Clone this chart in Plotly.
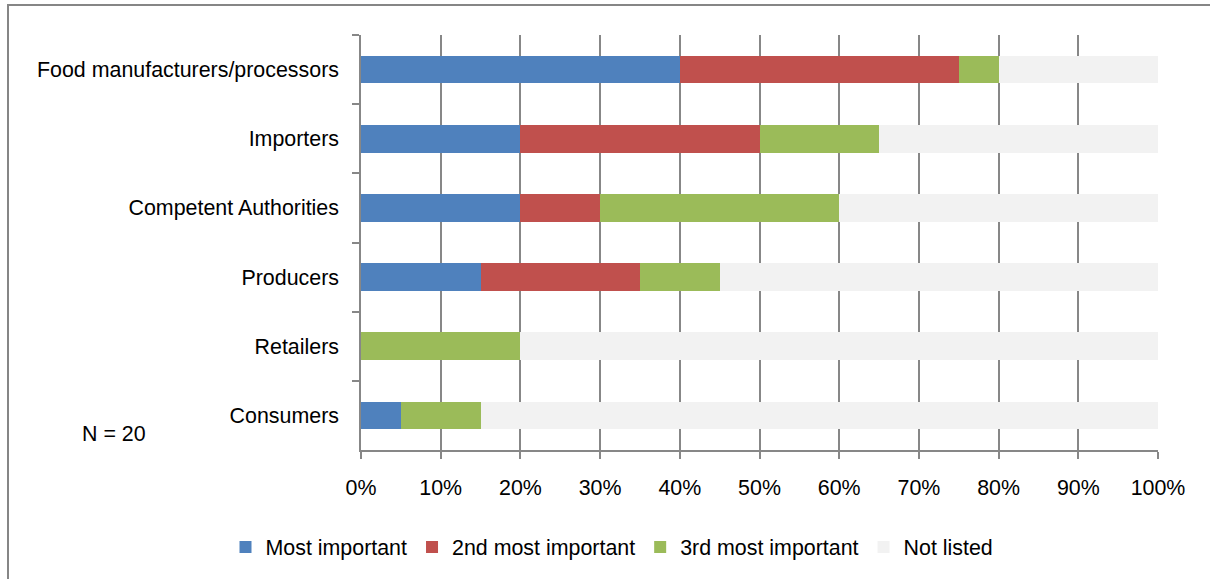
import plotly.graph_objects as go

categories = ["Food manufacturers/processors", "Importers", "Competent Authorities",
              "Producers", "Retailers", "Consumers"]
most_important = [40, 20, 20, 15, 0, 5]
second_most = [35, 30, 10, 20, 0, 0]
third_most = [5, 15, 30, 10, 20, 10]
not_listed = [20, 35, 40, 55, 80, 85]
x_ticks = list(range(0, 101, 10))
x_tick_labels = [f"{v}%" for v in x_ticks]

series = [
    ("Most important", most_important, "#4F81BD"),
    ("2nd most important", second_most, "#C0504D"),
    ("3rd most important", third_most, "#9BBB59"),
    ("Not listed", not_listed, "#F2F2F2"),
]

fig = go.Figure()
for name, vals, color in series:
    fig.add_trace(go.Bar(
        y=categories, x=vals, name=name, orientation="h",
        marker=dict(color=color, line=dict(width=0)),
    ))

W, H = 1210, 579
L, R, T, B = 361, 1158, 35, 450

def px(x):
    return (x - L) / (R - L)

def py(y):
    return (B - y) / (B - T)

grid = "#878787"
FS = 21.4
fig.update_layout(
    width=W, height=H,
    margin=dict(l=L, r=W - R, t=T, b=H - B, pad=0),
    barmode="stack", bargap=0.6,
    plot_bgcolor="white", paper_bgcolor="white",
    font=dict(family="Liberation Sans, Arial, sans-serif", size=FS, color="#000000"),
    showlegend=True,
    legend=dict(orientation="h", x=px(612), y=py(547), xanchor="center", yanchor="middle",
                traceorder="normal", font=dict(size=FS), itemclick=False),
    xaxis=dict(range=[0, 100], tickvals=x_ticks, ticktext=x_tick_labels,
               showgrid=True, gridcolor=grid, gridwidth=1.5,
               showline=True, linecolor=grid, linewidth=1.5,
               ticks="outside", ticklen=7, tickcolor=grid, tickwidth=1.5,
               zeroline=False, ticklabelstandoff=11, fixedrange=True),
    yaxis=dict(categoryorder="array", categoryarray=categories, autorange=False,
               range=[5.5, -0.5], showgrid=False, showline=True, linecolor=grid,
               linewidth=1.5, ticks="outside", tickson="boundaries", ticklen=7,
               tickcolor=grid, tickwidth=1.5, zeroline=False, ticklabelstandoff=16,
               fixedrange=True),
    annotations=[dict(text="N = 20", x=px(114), y=py(434), xref="paper", yref="paper",
                      showarrow=False, xanchor="center", yanchor="middle",
                      font=dict(size=FS))],
    shapes=[dict(type="rect", xref="paper", yref="paper",
                 x0=px(8), x1=px(1216), y0=py(5), y1=py(600),
                 line=dict(color="#868686", width=2), layer="below")],
)

fig.write_html("out.html")
